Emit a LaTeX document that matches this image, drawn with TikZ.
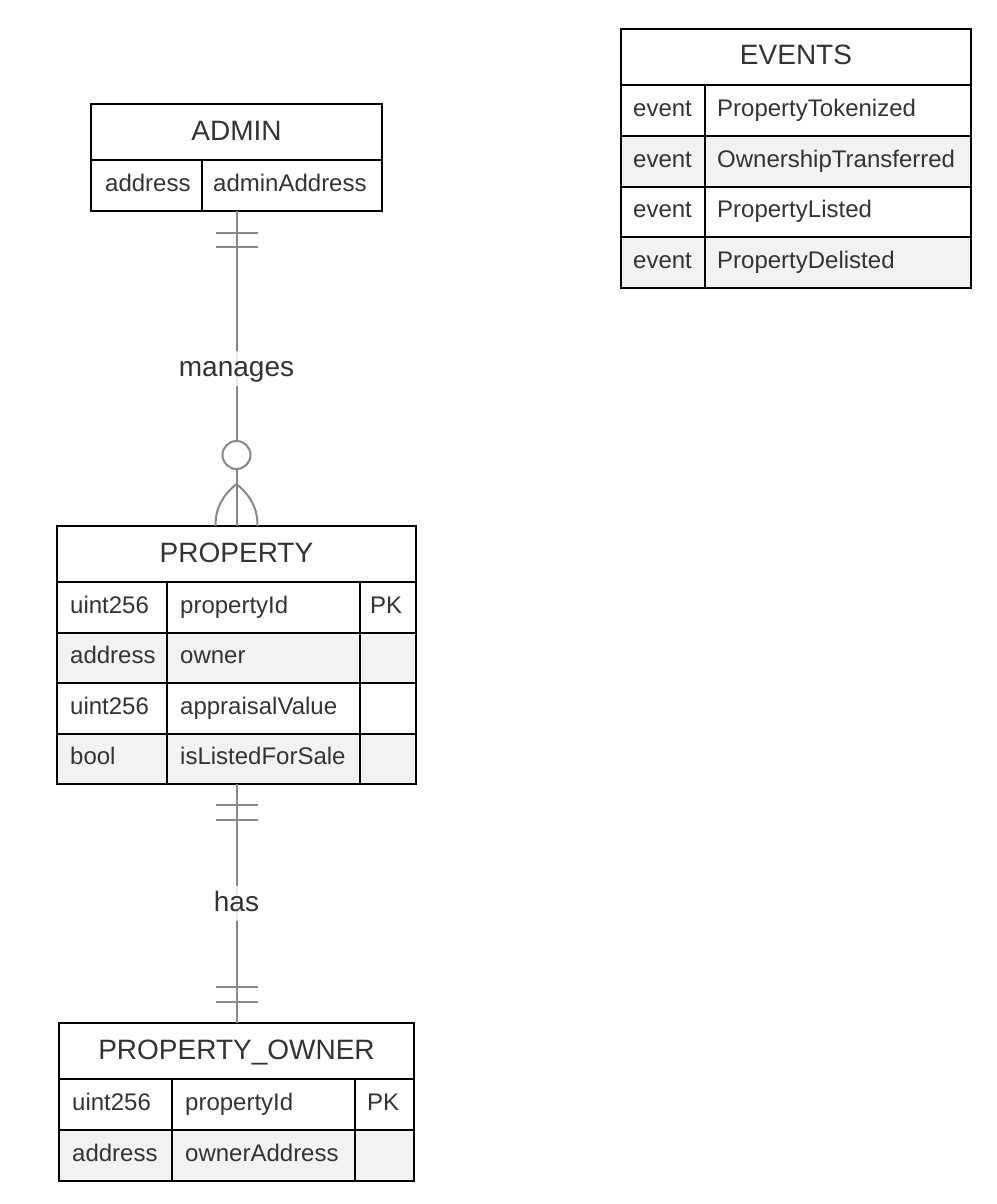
\documentclass[tikz,border=0pt]{standalone}
\usepackage{fontspec}
\setmainfont{Liberation Sans}
\usetikzlibrary{calc}

\definecolor{textdark}{HTML}{333333}
\definecolor{rowgray}{HTML}{F2F2F2}
\definecolor{linegray}{HTML}{888888}

\tikzset{
  entity/.style={draw=black, line width=2pt, anchor=north west, inner sep=0pt, outer sep=0pt},
  divider/.style={draw=black, line width=2pt},
  ename/.style={font=\fontsize{28}{32}\selectfont, text=textdark, inner sep=0pt, text height=20pt, text depth=4pt},
  attr/.style={font=\fontsize{24}{28}\selectfont, text=textdark, anchor=west, inner sep=0pt, text height=17pt, text depth=5pt},
  rel/.style={draw=linegray, line width=2pt},
  rellabel/.style={font=\fontsize{28}{32}\selectfont, text=textdark, fill=white, fill opacity=0.8, text opacity=1,
    inner xsep=2pt, inner ysep=5pt, text height=20pt, text depth=5pt}
}

\begin{document}
\begin{tikzpicture}[x=1pt,y=-1pt]
  \useasboundingbox (0,0) rectangle (996,1204);

  % ADMIN
  \node[entity, minimum width=291pt, minimum height=107pt] (admin) at (91,104) {};
  \draw[divider] (91,160) -- (382,160) (202,160) -- (202,211);
  \node[ename] (admintitle) at (236.5,132) {ADMIN};
  \node[attr] (admintype) at (105,185.5) {address};
  \node[attr] (adminname) at (213,185.5) {adminAddress};

  % EVENTS
  \fill[rowgray] (621,135.75) rectangle (971,186.5);
  \fill[rowgray] (621,237.25) rectangle (971,288);
  \node[entity, minimum width=350pt, minimum height=259pt] (events) at (621,29) {};
  \draw[divider] (621,85) -- (971,85) (621,135.75) -- (971,135.75)
    (621,186.5) -- (971,186.5) (621,237.25) -- (971,237.25) (705,85) -- (705,288);
  \node[ename] (eventstitle) at (796,57) {EVENTS};
  \node[attr] (eventtype1) at (633,110.4) {event};
  \node[attr] (eventname1) at (717,110.4) {PropertyTokenized};
  \node[attr] (eventtype2) at (633,161.1) {event};
  \node[attr] (eventname2) at (717,161.1) {OwnershipTransferred};
  \node[attr] (eventtype3) at (633,211.9) {event};
  \node[attr] (eventname3) at (717,211.9) {PropertyListed};
  \node[attr] (eventtype4) at (633,262.6) {event};
  \node[attr] (eventname4) at (717,262.6) {PropertyDelisted};

  % PROPERTY
  \fill[rowgray] (57,632.5) rectangle (416,683);
  \fill[rowgray] (57,733.5) rectangle (416,784);
  \node[entity, minimum width=359pt, minimum height=258pt] (property) at (57,526) {};
  \draw[divider] (57,582) -- (416,582) (57,632.5) -- (416,632.5)
    (57,683) -- (416,683) (57,733.5) -- (416,733.5)
    (167,582) -- (167,784) (360,582) -- (360,784);
  \node[ename] (propertytitle) at (236.5,554) {PROPERTY};
  \node[attr] (proptype1) at (70,607.25) {uint256};
  \node[attr] (propname1) at (180,607.25) {propertyId};
  \node[attr] (propkey1) at (370,607.25) {PK};
  \node[attr] (proptype2) at (70,657.75) {address};
  \node[attr] (propname2) at (180,657.75) {owner};
  \node[attr] (proptype3) at (70,708.25) {uint256};
  \node[attr] (propname3) at (180,708.25) {appraisalValue};
  \node[attr] (proptype4) at (70,758.75) {bool};
  \node[attr] (propname4) at (180,758.75) {isListedForSale};

  % PROPERTY_OWNER
  \fill[rowgray] (59,1130) rectangle (414,1181);
  \node[entity, minimum width=355pt, minimum height=158pt] (owner) at (59,1023) {};
  \draw[divider] (59,1079) -- (414,1079) (59,1130) -- (414,1130)
    (172,1079) -- (172,1181) (355,1079) -- (355,1181);
  \node[ename] (ownertitle) at (236.5,1051) {PROPERTY\_OWNER};
  \node[attr] (ownertype1) at (72,1104.5) {uint256};
  \node[attr] (ownername1) at (185,1104.5) {propertyId};
  \node[attr] (ownerkey1) at (367,1104.5) {PK};
  \node[attr] (ownertype2) at (72,1155.5) {address};
  \node[attr] (ownername2) at (185,1155.5) {ownerAddress};

  % relationships
  \draw[rel] (admin.south) -- (property.north) node[rellabel, midway] (manages) {manages};
  \draw[rel] ([xshift=-21pt,yshift=-22pt]admin.south) -- ([xshift=21pt,yshift=-22pt]admin.south);
  \draw[rel] ([xshift=-21pt,yshift=-36pt]admin.south) -- ([xshift=21pt,yshift=-36pt]admin.south);
  \draw[rel, fill=white] ([yshift=71pt]property.north) circle (14pt);
  \draw[rel] ([yshift=42pt]property.north) to[out=-140, in=90] ([xshift=-21pt]property.north);
  \draw[rel] ([yshift=42pt]property.north) to[out=-40, in=90] ([xshift=21pt]property.north);

  \draw[rel] (property.south) -- (owner.north) node[rellabel, midway] (has) {has};
  \draw[rel] ([xshift=-21pt,yshift=-21pt]property.south) -- ([xshift=21pt,yshift=-21pt]property.south);
  \draw[rel] ([xshift=-21pt,yshift=-36pt]property.south) -- ([xshift=21pt,yshift=-36pt]property.south);
  \draw[rel] ([xshift=-21pt,yshift=36pt]owner.north) -- ([xshift=21pt,yshift=36pt]owner.north);
  \draw[rel] ([xshift=-21pt,yshift=21pt]owner.north) -- ([xshift=21pt,yshift=21pt]owner.north);
\end{tikzpicture}
\end{document}
